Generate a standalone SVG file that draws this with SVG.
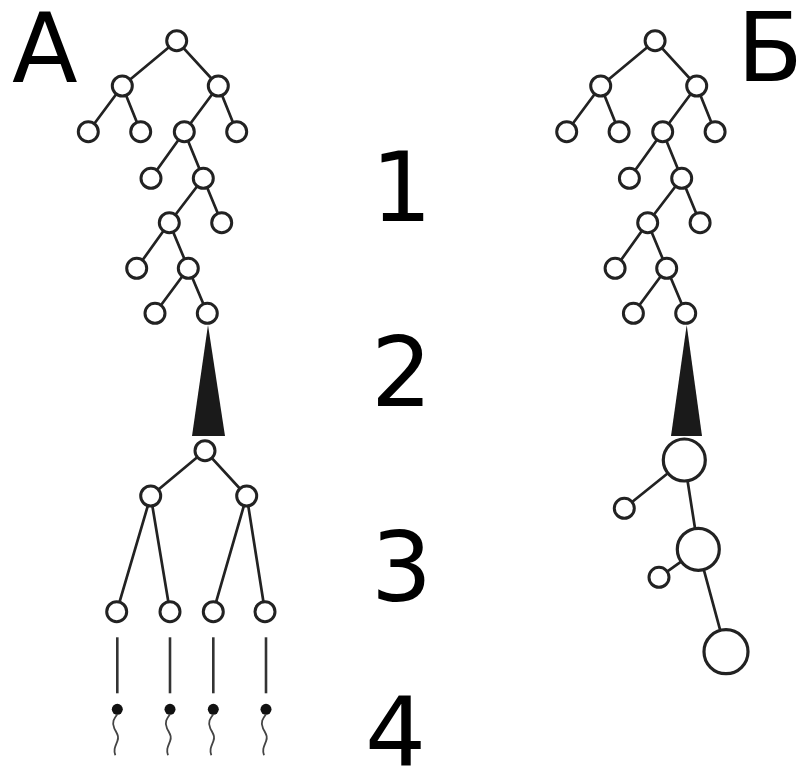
<svg xmlns="http://www.w3.org/2000/svg" xmlns:xlink="http://www.w3.org/1999/xlink" width="798" height="770" viewBox="0 0 798 770">
  <style>
    .edge { stroke: #222; stroke-width: 2.7; fill: none; stroke-linecap: round; }
    .n { fill: #fff; stroke: #222; stroke-width: 3; }
    .big { fill: #fff; stroke: #222; stroke-width: 3.2; }
    .wedge { fill: #1a1a1a; }
    .stalk { stroke: #333; stroke-width: 2.6; }
    .head { fill: #111; }
    .tail { stroke: #444; stroke-width: 1.8; fill: none; }
    .lbl { font-family: "DejaVu Sans", "Liberation Sans", sans-serif; font-size: 96px; fill: #000; }
  </style>
  <defs>
    <!-- one gamete: stalk, round head and wavy tail, drawn around the head centre -->
    <g id="sperm">
      <line class="stalk" x1="0" y1="-72" x2="0" y2="-16"/>
      <circle class="head" cx="0" cy="0" r="5.5"/>
      <path class="tail" d="M0,5 C-3,9 -6,13 -3,19 S2,27 0,32 S-4,40 -2,46"/>
    </g>
  </defs>

  <rect width="798" height="770" fill="#fff"/>

  <!-- labels -->
  <text class="lbl" x="12" y="82">А</text>
  <text class="lbl" x="737" y="81">Б</text>
  <text class="lbl" x="371" y="221">1</text>
  <text class="lbl" x="371" y="406">2</text>
  <text class="lbl" x="371" y="601">3</text>
  <text class="lbl" x="365" y="766">4</text>

  <!-- connectors -->
  <g id="connectors">
    <g id="tree-a-edges">
      <path class="edge" d="M176.7,40.7 L122.3,86 M176.7,40.7 L218.3,86
        M122.3,86 L88.3,131.7 M122.3,86 L140.7,131.7
        M218.3,86 L184.3,131.7 M218.3,86 L236.7,131.7
        M184.3,131.7 L151,178.3 M184.3,131.7 L203.3,178.3
        M203.3,178.3 L169.3,222.7 M203.3,178.3 L221.7,222.7
        M169.3,222.7 L136.7,268.3 M169.3,222.7 L188.3,268.3
        M188.3,268.3 L155,313.3 M188.3,268.3 L207.3,313.3"/>
      <polygon class="wedge" points="208,325 192,436 225,436"/>
      <path class="edge" d="M205,450.7 L150.7,496 M205,450.7 L246.7,496
        M150.7,496 L116.7,611.7 M150.7,496 L170,611.7
        M246.7,496 L213.3,611.7 M246.7,496 L265,611.7"/>
    </g>
    <g id="tree-b-edges">
      <path class="edge" transform="translate(478.4,0)" d="M176.7,40.7 L122.3,86 M176.7,40.7 L218.3,86
        M122.3,86 L88.3,131.7 M122.3,86 L140.7,131.7
        M218.3,86 L184.3,131.7 M218.3,86 L236.7,131.7
        M184.3,131.7 L151,178.3 M184.3,131.7 L203.3,178.3
        M203.3,178.3 L169.3,222.7 M203.3,178.3 L221.7,222.7
        M169.3,222.7 L136.7,268.3 M169.3,222.7 L188.3,268.3
        M188.3,268.3 L155,313.3 M188.3,268.3 L207.3,313.3"/>
      <polygon class="wedge" points="686.7,325 671,436 702,436"/>
      <path class="edge" d="M684.3,460 L624.3,508.3 M684.3,460 L698.3,549.3
        M698.3,549.3 L659,577.3 M698.3,549.3 L726,651.7"/>
    </g>
  </g>

  <!-- tree А: cells -->
  <g id="tree-a">
    <g id="a-n1"><circle class="n" cx="176.7" cy="40.7" r="10"/></g>
    <g id="a-n2"><circle class="n" cx="122.3" cy="86" r="10"/></g>
    <g id="a-n3"><circle class="n" cx="218.3" cy="86" r="10"/></g>
    <g id="a-n4"><circle class="n" cx="88.3" cy="131.7" r="10"/></g>
    <g id="a-n5"><circle class="n" cx="140.7" cy="131.7" r="10"/></g>
    <g id="a-n6"><circle class="n" cx="184.3" cy="131.7" r="10"/></g>
    <g id="a-n7"><circle class="n" cx="236.7" cy="131.7" r="10"/></g>
    <g id="a-n8"><circle class="n" cx="151" cy="178.3" r="10"/></g>
    <g id="a-n9"><circle class="n" cx="203.3" cy="178.3" r="10"/></g>
    <g id="a-n10"><circle class="n" cx="169.3" cy="222.7" r="10"/></g>
    <g id="a-n11"><circle class="n" cx="221.7" cy="222.7" r="10"/></g>
    <g id="a-n12"><circle class="n" cx="136.7" cy="268.3" r="10"/></g>
    <g id="a-n13"><circle class="n" cx="188.3" cy="268.3" r="10"/></g>
    <g id="a-n14"><circle class="n" cx="155" cy="313.3" r="10"/></g>
    <g id="a-n15"><circle class="n" cx="207.3" cy="313.3" r="10"/></g>
    <g id="a-m1"><circle class="n" cx="205" cy="450.7" r="10"/></g>
    <g id="a-m2"><circle class="n" cx="150.7" cy="496" r="10"/></g>
    <g id="a-m3"><circle class="n" cx="246.7" cy="496" r="10"/></g>
    <g id="a-m4"><circle class="n" cx="116.7" cy="611.7" r="10"/></g>
    <g id="a-m5"><circle class="n" cx="170" cy="611.7" r="10"/></g>
    <g id="a-m6"><circle class="n" cx="213.3" cy="611.7" r="10"/></g>
    <g id="a-m7"><circle class="n" cx="265" cy="611.7" r="10"/></g>
    <g id="a-g1"><use xlink:href="#sperm" href="#sperm" transform="translate(117.3,709.3)"/></g>
    <g id="a-g2"><use xlink:href="#sperm" href="#sperm" transform="translate(170,709.3)"/></g>
    <g id="a-g3"><use xlink:href="#sperm" href="#sperm" transform="translate(213.3,709.3)"/></g>
    <g id="a-g4"><use xlink:href="#sperm" href="#sperm" transform="translate(266,709.3)"/></g>
  </g>

  <!-- tree Б: cells -->
  <g id="tree-b">
    <g id="b-n1"><circle class="n" cx="655.1" cy="40.7" r="10"/></g>
    <g id="b-n2"><circle class="n" cx="600.7" cy="86" r="10"/></g>
    <g id="b-n3"><circle class="n" cx="696.7" cy="86" r="10"/></g>
    <g id="b-n4"><circle class="n" cx="566.7" cy="131.7" r="10"/></g>
    <g id="b-n5"><circle class="n" cx="619.1" cy="131.7" r="10"/></g>
    <g id="b-n6"><circle class="n" cx="662.7" cy="131.7" r="10"/></g>
    <g id="b-n7"><circle class="n" cx="715.1" cy="131.7" r="10"/></g>
    <g id="b-n8"><circle class="n" cx="629.4" cy="178.3" r="10"/></g>
    <g id="b-n9"><circle class="n" cx="681.7" cy="178.3" r="10"/></g>
    <g id="b-n10"><circle class="n" cx="647.7" cy="222.7" r="10"/></g>
    <g id="b-n11"><circle class="n" cx="700.1" cy="222.7" r="10"/></g>
    <g id="b-n12"><circle class="n" cx="615.1" cy="268.3" r="10"/></g>
    <g id="b-n13"><circle class="n" cx="666.7" cy="268.3" r="10"/></g>
    <g id="b-n14"><circle class="n" cx="633.4" cy="313.3" r="10"/></g>
    <g id="b-n15"><circle class="n" cx="685.7" cy="313.3" r="10"/></g>
    <g id="b-o1"><circle class="big" cx="684.3" cy="460" r="21"/></g>
    <g id="b-p1"><circle class="n" cx="624.3" cy="508.3" r="10"/></g>
    <g id="b-o2"><circle class="big" cx="698.3" cy="549.3" r="21"/></g>
    <g id="b-p2"><circle class="n" cx="659" cy="577.3" r="10"/></g>
    <g id="b-o3"><circle class="big" cx="726" cy="651.7" r="22"/></g>
  </g>
</svg>
